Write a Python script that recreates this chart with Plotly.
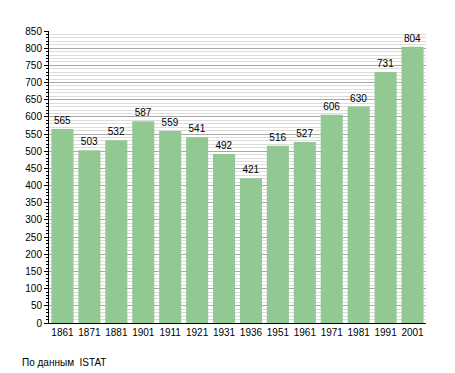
import plotly.graph_objects as go

years = ["1861", "1871", "1881", "1901", "1911", "1921", "1931", "1936",
         "1951", "1961", "1971", "1981", "1991", "2001"]
population = [565, 503, 532, 587, 559, 541, 492, 421, 516, 527, 606, 630, 731, 804]
source_note = "По данным  ISTAT"

OFF = 8  # page body margin
W, H = 455 - OFF, 373 - OFF
L, T = 49 - OFF, 31 - OFF
R = W - (426 - OFF)
B = H - (323 - OFF)
pw = W - L - R
ph = H - T - B

fig = go.Figure()
fig.add_trace(go.Bar(
    x=years, y=population,
    text=[str(v) for v in population],
    textposition="outside",
    textfont=dict(family="Liberation Sans, Arial, sans-serif", size=10, color="#000000"),
    cliponaxis=False,
    marker=dict(color="rgb(146,201,146)", line=dict(width=0)),
))

fig.update_layout(
    width=W, height=H,
    margin=dict(l=L, r=R, t=T, b=B),
    paper_bgcolor="white", plot_bgcolor="white",
    bargap=0.18,
    showlegend=False,
    font=dict(family="Liberation Sans, Arial, sans-serif", size=10, color="#000000"),
    xaxis=dict(
        type="category",
        showline=True, linecolor="#000000", linewidth=1,
        ticks="", showgrid=False,
        tickfont=dict(size=10),
    ),
    yaxis=dict(
        range=[0, 850],
        dtick=50, tick0=0,
        showline=True, linecolor="#000000", linewidth=1,
        ticks="outside", ticklen=4, tickcolor="#000000",
        showgrid=True, gridcolor="#a8a8a8", gridwidth=1,
        zeroline=False,
        minor=dict(dtick=10, showgrid=True, gridcolor="#dcdcdc",
                   ticks="outside", ticklen=2, tickcolor="#000000"),
        tickfont=dict(size=10),
    ),
    annotations=[dict(
        text=source_note, xref="paper", yref="paper",
        x=(20 - OFF - L) / pw, y=-(362 - OFF - (T + ph)) / ph,
        xanchor="left", yanchor="middle", showarrow=False,
        font=dict(size=10, color="#000000"),
    )],
)

fig.write_html("out.html")
